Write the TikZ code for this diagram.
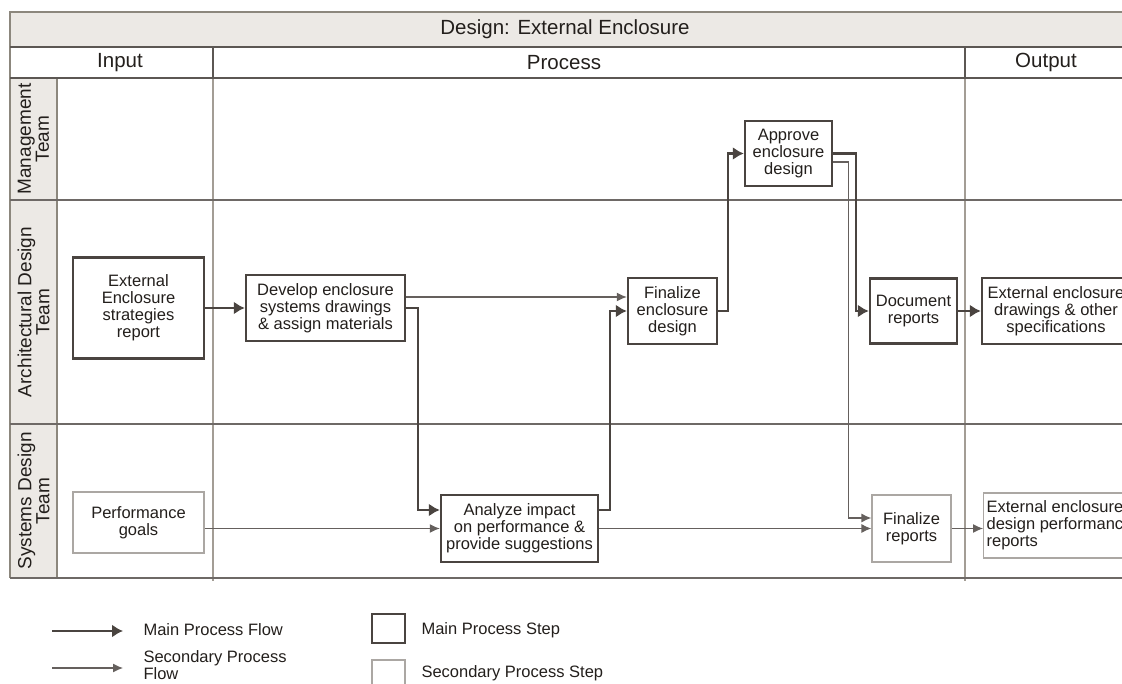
\documentclass[tikz,border=0pt]{standalone}
\usepackage{fontspec}
\setmainfont{Liberation Sans}
\usepackage{xcolor}
\usetikzlibrary{arrows,arrows.meta,shapes,backgrounds,fit,positioning}
\definecolor{lineDark}{HTML}{4A4440}
\definecolor{frameGray}{HTML}{8C877D}
\definecolor{gridGray}{HTML}{A39D95}
\definecolor{softGray}{HTML}{ABA7A3}
\definecolor{bandFill}{HTML}{ECE9E5}
\definecolor{inkText}{HTML}{231F1C}

\begin{document}
\begin{tikzpicture}[x=1pt,y=-1pt]
        \tikzstyle{mainstep}=[draw=lineDark, line width=2.4pt, fill=white, align=center, inner sep=2pt, text=inkText, font=\fontsize{16.5}{17}\selectfont]
        \tikzstyle{substep}=[draw=softGray, line width=1.2pt, fill=white, align=center, inner sep=2pt, text=inkText, font=\fontsize{16.5}{17}\selectfont]
        \tikzstyle{connect}=[-{Latex[length=11pt,width=13pt]}, line width=2.4pt, draw=lineDark]
        \tikzstyle{connect1}=[-{Latex[length=10pt,width=9pt]}, line width=1.2pt, draw=lineDark!85]
        \tikzstyle{head}=[text=inkText, font=\fontsize{20.5}{20.5}\selectfont]
        \tikzstyle{lane}=[text=inkText, rotate=90, align=center, font=\fontsize{19}{16.5}\selectfont]
        \tikzstyle{legend}=[text=inkText, anchor=west, align=left, font=\fontsize{16.5}{16.5}\selectfont]
        \useasboundingbox (0,0) rectangle (1122,684);
        \clip (0,0) rectangle (1122,684);
        % frame and lanes
        \fill[bandFill] (10,12) rectangle (1140,47);
        \fill[bandFill] (10,78) rectangle (57,578);
        \draw[gridGray, line width=1.4pt] (213,78) -- (213,581) (965,78) -- (965,581);
        \draw[frameGray, line width=2.4pt] (1140,12) -- (10,12) -- (10,578);
        \draw[frameGray, line width=1.8pt] (57,78) -- (57,578);
        \draw[lineDark!90, line width=2pt] (10,47) -- (1140,47) (10,78) -- (1140,78)
            (213,47) -- (213,78) (965,47) -- (965,78);
        \draw[lineDark!80, line width=2pt] (10,200) -- (1140,200) (10,424) -- (1140,424) (10,578) -- (1140,578);
        \node[head] (title) at (565,29.5) {Design: External Enclosure};
        \node[head] (input) at (120,62.5) {Input};
        \node[head] (process) at (564,62.5) {Process};
        \node[head] (output) at (1046,62.5) {Output};
        \node[lane] (mgmt) at (33.5,139) {Management\\Team};
        \node[lane] (arch) at (33.5,312) {Architectural Design\\Team};
        \node[lane] (sys) at (33.5,501) {Systems Design\\Team};
        % steps
        \node[mainstep, minimum width=131, minimum height=101] (strat) at (138.5,308) {External\\Enclosure\\strategies\\report};
        \node[mainstep, minimum width=159, minimum height=66] (develop) at (325.5,308) {Develop enclosure\\systems drawings\\\& assign materials};
        \node[mainstep, minimum width=89, minimum height=66] (findes) at (672.5,311) {Finalize\\enclosure\\design};
        \node[mainstep, minimum width=87, minimum height=65] (approve) at (788.5,153.5) {Approve\\enclosure\\design};
        \node[mainstep, minimum width=87, minimum height=65] (docrep) at (913.5,311) {Document\\reports};
        \node[mainstep, minimum width=148, minimum height=66] (extdraw) at (1056,311) {External enclosure\\drawings \& other\\specifications};
        \node[substep, minimum width=131, minimum height=61] (goals) at (138.5,522.5) {Performance\\goals};
        \node[mainstep, minimum width=157, minimum height=67] (analyze) at (519.5,528.5) {Analyze impact\\on performance \&\\provide suggestions};
        \node[substep, minimum width=79, minimum height=67] (finrep) at (911.5,528.5) {Finalize\\reports};
        \node[substep, minimum width=148, minimum height=65, align=left, inner sep=3pt, anchor=west] (extperf) at (983,525.5) {External enclosure\\design performance\\reports};
        % flows
        \draw[connect] (strat.east) -- (develop.west);
        \draw[connect1] ([yshift=11pt]develop.east) -- ([yshift=11pt]develop.east -| findes.west);
        \draw[connect] (develop.east) -- ++(12,0) |- ([yshift=18.5pt]analyze.west);
        \draw[connect1] (goals.east |- analyze.west) -- (analyze.west);
        \draw[connect] ([yshift=18.5pt]analyze.east) -- ++(11,0) |- (findes.west);
        \draw[connect] (findes.east) -- ++(10,0) |- (approve.west);
        \draw[connect] (approve.east) -- ++(23,0) |- (docrep.west);
        \draw[connect1] ([yshift=-8.5pt]approve.east) -- ++(15,0) |- ([yshift=10.5pt]finrep.west);
        \draw[connect1] (analyze.east) -- (finrep.west);
        \draw[connect] (docrep.east) -- (extdraw.west);
        \draw[connect1] (finrep.east) -- (finrep.east -| extperf.west);
        % legend
        \coordinate (lgA) at (52,631);
        \coordinate (lgB) at (123,631);
        \coordinate (lgC) at (52,668);
        \coordinate (lgD) at (123,668);
        \draw[connect, line width=2pt] (lgA) -- (lgB);
        \draw[connect1] (lgC) -- (lgD);
        \node[legend] (lgmain) at (140,630) {Main Process Flow};
        \node[legend] (lgsub) at (140,665) {Secondary Process\\Flow};
        \node[mainstep, minimum width=33, minimum height=29] (lgbox) at (388.5,628.5) {};
        \node[substep, minimum width=33, minimum height=32] (lgbox1) at (388.5,676) {};
        \node[legend] (lgmainbox) at (418,630) {Main Process Step};
        \node[legend] (lgsubbox) at (418,673) {Secondary Process Step};
\end{tikzpicture}
\end{document}
